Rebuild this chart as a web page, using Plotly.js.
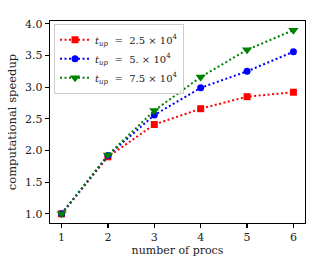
<!DOCTYPE html>
<html><head><meta charset="utf-8">
<script src="https://cdn.plot.ly/plotly-3.0.1.min.js"></script>
<style>html,body{margin:0;padding:0;background:#fff}</style>
</head><body><div id="chart" style="width:332px;height:266px"></div>
<script>
const procs = [1, 2, 3, 4, 5, 6];
const speedupA = [1.0, 1.90, 2.41, 2.66, 2.85, 2.92];
const speedupB = [1.0, 1.92, 2.56, 2.99, 3.25, 3.56];
const speedupC = [1.0, 1.93, 2.63, 3.16, 3.59, 3.90];
const names = [
  '<i>t</i><sub><i>up</i></sub>  =  2.5 × 10<sup>4</sup>',
  '<i>t</i><sub><i>up</i></sub>  =  5. × 10<sup>4</sup>',
  '<i>t</i><sub><i>up</i></sub>  =  7.5 × 10<sup>4</sup>'
];
const font = 'DejaVu Serif, Liberation Serif, serif';
const mk = (y, name, color, symbol, size) => ({
  x: procs, y: y, name: name, type: 'scatter', mode: 'lines+markers',
  line: {color: color, dash: '2px,2.5px', width: 2},
  marker: {color: color, symbol: symbol, size: size}
});
const data = [
  mk(speedupA, names[0], '#ff0000', 'square', 7),
  mk(speedupB, names[1], '#0000ff', 'circle', 7),
  mk(speedupC, names[2], '#008000', 'triangle-down', 9)
];
const axisCommon = {
  showline: true, mirror: true, linecolor: '#000', linewidth: 1.2,
  ticks: 'outside', ticklen: 4, tickcolor: '#000', tickwidth: 1.2,
  showgrid: false, zeroline: false,
  tickfont: {family: font, size: 11, color: '#222'}
};
const layout = {
  width: 332, height: 266,
  margin: {l: 50, r: 27, t: 21, b: 43},
  paper_bgcolor: '#fff', plot_bgcolor: '#fff',
  font: {family: font, color: '#222'},
  showlegend: true,
  legend: {x: 0.015, y: 0.985, xanchor: 'left', yanchor: 'top',
    bgcolor: 'rgba(255,255,255,0.8)', bordercolor: '#ccc', borderwidth: 1.2,
    font: {family: font, size: 10}, tracegroupgap: 0, itemwidth: 30},
  xaxis: Object.assign({}, axisCommon, {range: [0.75, 6.25], tickvals: procs,
    title: {text: 'number of procs', font: {family: font, size: 11}, standoff: 2}}),
  yaxis: Object.assign({}, axisCommon, {range: [0.855, 4.045], tickvals: [1.0,1.5,2.0,2.5,3.0,3.5,4.0],
    ticktext: ['1.0','1.5','2.0','2.5','3.0','3.5','4.0'],
    title: {text: 'computational speedup', font: {family: font, size: 11.5}, standoff: 6}})
};
Plotly.newPlot('chart', data, layout, {displayModeBar: false, staticPlot: true});
</script></body></html>
